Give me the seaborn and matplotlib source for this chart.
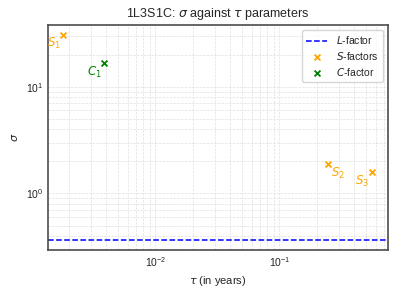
import matplotlib
matplotlib.use("Agg")
import matplotlib.pyplot as plt
import seaborn as sns

# values
s_tau = [1.81e-3, 0.248, 0.562]
s_sigma = [30.3, 1.88, 1.58]
s_names = ["$S_1$", "$S_2$", "$S_3$"]
c_tau = [3.88e-3]
c_sigma = [16.8]
c_names = ["$C_1$"]
l_sigma = 0.368

# label placement: (dx, dy) in pixels, ha
s_offsets = [((-2, -1), "right"), ((3, -2), "left"), ((-3, -2), "right")]
c_offsets = [((-3, -2), "right")]

sns.set_theme(style="whitegrid")
plt.rcParams["font.family"] = ["Liberation Sans", "DejaVu Sans"]

fig, ax = plt.subplots(figsize=(3.99, 2.99), dpi=100)
fig.subplots_adjust(left=0.12, right=0.972, top=0.916, bottom=0.164)

ax.axhline(l_sigma, color="blue", linestyle="--", linewidth=1.1, label="$L$-factor")
sns.scatterplot(x=s_tau, y=s_sigma, marker="x", color="orange", s=18,
                linewidth=1.3, label="$S$-factors", ax=ax)
sns.scatterplot(x=c_tau, y=c_sigma, marker="x", color="green", s=18,
                linewidth=1.3, label="$C$-factor", ax=ax)

ax.set_xscale("log")
ax.set_yscale("log")

for x, y, name, (off, ha) in zip(s_tau, s_sigma, s_names, s_offsets):
    ax.annotate(name, (x, y), xytext=off, textcoords="offset pixels",
                ha=ha, va="top", color="orange", fontsize=8.5)
for x, y, name, (off, ha) in zip(c_tau, c_sigma, c_names, c_offsets):
    ax.annotate(name, (x, y), xytext=off, textcoords="offset pixels",
                ha=ha, va="top", color="green", fontsize=8.5)

ax.grid(which="both", color="0.88", linestyle="--", linewidth=0.5)
for spine in ax.spines.values():
    spine.set_color("0.3")
    spine.set_linewidth(1.2)
ax.tick_params(which="both", length=0, labelsize=7.5)

ax.set_title("1L3S1C: $\\sigma$ against $\\tau$ parameters", fontsize=9)
ax.set_xlabel("$\\tau$ (in years)", fontsize=8)
ax.set_ylabel("$\\sigma$", fontsize=8)
ax.legend(loc="upper right", fontsize=7.5, labelspacing=0.35)

fig.savefig("out.png", dpi=100)
